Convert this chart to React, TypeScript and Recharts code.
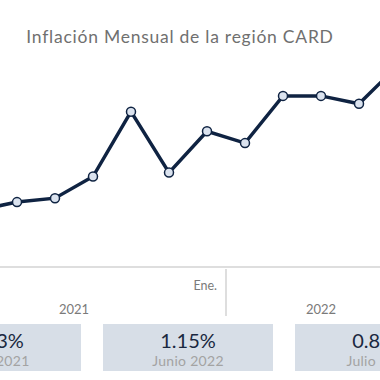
import React from "react";
import { LineChart, Line, XAxis, YAxis } from "recharts";

// monthly inflation, May 2021 - May 2022 (values in %)
const MONTHS = ["May", "Jun", "Jul", "Ago", "Sep", "Oct", "Nov", "Dic", "Ene", "Feb", "Mar", "Abr", "May"];
const YEARS = [2021, 2021, 2021, 2021, 2021, 2021, 2021, 2021, 2022, 2022, 2022, 2022, 2022];
const INFLATION = [0.22, 0.29, 0.33, 0.35, 0.46, 0.79, 0.48, 0.69, 0.63, 0.87, 0.87, 0.83, 1.02];

const CARD_VALUES = ["0.33%", "1.15%", "0.84%"];
const CARD_LABELS = ["Julio 2021", "Junio 2022", "Julio 2022"];

const data = MONTHS.map((m, i) => ({ key: `${m}-${YEARS[i]}`, month: m, year: YEARS[i], value: INFLATION[i] }));

const CHART_W = 600;
const MARGIN_L = 22;
const PLOT_W = 494;
const STEP = PLOT_W / data.length;
const FONT = "Lato, 'Open Sans', sans-serif";
const NAVY = "#0f2342";

// middle index of each year group
const yearMid: Record<number, number> = {};
YEARS.forEach((y) => {
  const first = YEARS.indexOf(y);
  const last = YEARS.lastIndexOf(y);
  yearMid[y] = (first + last) / 2;
});

const MonthTick = (props: any) => {
  const { x, y, index } = props;
  const d = data[index];
  const mid = yearMid[d.year];
  return (
    <g>
      {d.month === "Ene" && (
        <>
          <line x1={x - STEP / 2} x2={x - STEP / 2} y1={y} y2={y + 47} stroke="#bdbdbd" strokeWidth={1} />
          <text x={x - STEP / 2 - 9} y={y + 21} textAnchor="end" fill="#7a7a7a" fontSize={12.5} fontFamily={FONT}>
            Ene.
          </text>
        </>
      )}
      {Math.floor(mid) === index && (
        <text x={x + (mid - index) * STEP} y={y + 45} textAnchor="middle" fill="#7a7a7a" fontSize={13} fontFamily={FONT}>
          {d.year}
        </text>
      )}
    </g>
  );
};

export default function App() {
  return (
    <div style={{ position: "absolute", left: 0, top: 0, width: 380, height: 380, overflow: "hidden", background: "#fff" }}>
      <div
        style={{
          position: "absolute",
          left: 0,
          top: 27,
          width: 360,
          textAlign: "center",
          fontFamily: FONT,
          fontSize: 17.5,
          letterSpacing: 0.75,
          lineHeight: "20px",
          color: "#707070",
        }}
      >
        Inflación Mensual de la región CARD
      </div>
      <div style={{ position: "absolute", left: -100, top: 0 }}>
        <LineChart
          width={CHART_W}
          height={320}
          data={data}
          margin={{ top: 31, right: CHART_W - MARGIN_L - PLOT_W, bottom: 3, left: MARGIN_L }}
        >
          <XAxis
            dataKey="key"
            interval={0}
            tickLine={false}
            tickSize={0}
            height={50}
            padding={{ left: STEP / 2, right: STEP / 2 }}
            axisLine={{ stroke: "#bdbdbd" }}
            tick={<MonthTick />}
          />
          <YAxis hide domain={[0, 1.2]} />
          <Line
            dataKey="value"
            stroke={NAVY}
            strokeWidth={3.5}
            dot={{ r: 4.5, fill: "#dbe3ef", stroke: NAVY, strokeWidth: 1.5 }}
            isAnimationActive={false}
          />
        </LineChart>
      </div>
      {CARD_VALUES.map((v, i) => (
        <div
          key={i}
          style={{
            position: "absolute",
            left: -89 + i * 192,
            top: 324,
            width: 170,
            height: 47,
            background: "#d7dee7",
            textAlign: "center",
            fontFamily: FONT,
          }}
        >
          <div style={{ marginTop: 4, fontSize: 20, lineHeight: "24px", color: "#1a2840" }}>{v}</div>
          <div style={{ fontSize: 14, letterSpacing: 0.3, lineHeight: "17px", color: "#a3a3a3" }}>{CARD_LABELS[i]}</div>
        </div>
      ))}
    </div>
  );
}
